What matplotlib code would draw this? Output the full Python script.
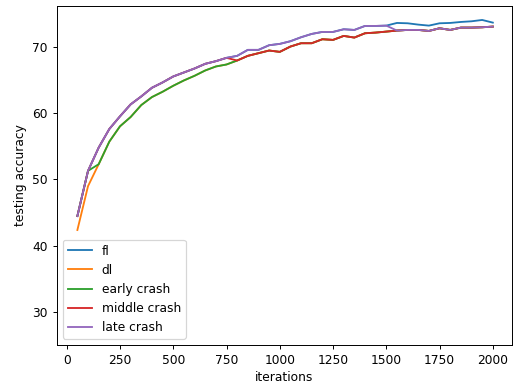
import matplotlib.pyplot as plt

iterations = list(range(50, 2001, 50))

fl = [44.5, 51.3, 54.8, 57.6, 59.5, 61.3, 62.5, 63.8, 64.6, 65.5,
      66.1, 66.7, 67.4, 67.8, 68.3, 68.6, 69.5, 69.5, 70.2, 70.4,
      70.8, 71.4, 71.9, 72.2, 72.2, 72.6, 72.5, 73.1, 73.1, 73.15,
      73.55, 73.5, 73.3, 73.15, 73.5, 73.55, 73.7, 73.8, 74.0, 73.6]

dl = [42.4, 49.0, 52.3, 55.7, 58.0, 59.4, 61.2, 62.4, 63.2, 64.1,
      64.9, 65.6, 66.4, 67.0, 67.3, 67.9, 68.6, 69.0, 69.4, 69.2,
      70.0, 70.5, 70.5, 71.1, 71.0, 71.6, 71.35, 72.0, 72.1, 72.25,
      72.4, 72.5, 72.5, 72.35, 72.75, 72.5, 72.85, 72.85, 72.9, 73.0]

early_crash = [44.5, 51.3, 52.3, 55.7, 58.0, 59.4, 61.2, 62.4, 63.2, 64.1,
               64.9, 65.6, 66.4, 67.0, 67.3, 67.9, 68.6, 69.0, 69.4, 69.2,
               70.0, 70.5, 70.5, 71.1, 71.0, 71.6, 71.35, 72.0, 72.1, 72.25,
               72.4, 72.5, 72.5, 72.35, 72.75, 72.5, 72.85, 72.85, 72.9, 73.0]

middle_crash = [44.5, 51.3, 54.8, 57.6, 59.5, 61.3, 62.5, 63.8, 64.6, 65.5,
                66.1, 66.7, 67.4, 67.8, 68.3, 67.9, 68.6, 69.0, 69.4, 69.2,
                70.0, 70.5, 70.5, 71.1, 71.0, 71.6, 71.35, 72.0, 72.1, 72.25,
                72.4, 72.5, 72.5, 72.35, 72.75, 72.5, 72.85, 72.85, 72.9, 73.0]

late_crash = [44.5, 51.3, 54.8, 57.6, 59.5, 61.3, 62.5, 63.8, 64.6, 65.5,
              66.1, 66.7, 67.4, 67.8, 68.3, 68.6, 69.5, 69.5, 70.2, 70.4,
              70.8, 71.4, 71.9, 72.2, 72.2, 72.6, 72.5, 73.1, 73.1, 73.15,
              72.4, 72.5, 72.5, 72.35, 72.75, 72.5, 72.85, 72.85, 72.9, 73.0]

fig = plt.figure(figsize=(513 / 88, 391 / 88), dpi=88)
ax = fig.add_axes([56.5 / 513, 46 / 391, 455.5 / 513, 339 / 391])

ax.plot(iterations, fl, label="fl")
ax.plot(iterations, dl, label="dl")
ax.plot(iterations, early_crash, label="early crash")
ax.plot(iterations, middle_crash, label="middle crash")
ax.plot(iterations, late_crash, label="late crash")

ax.set_xlim(-48, 2090)
ax.set_ylim(25.1, 76.1)
ax.set_xlabel("iterations")
ax.set_ylabel("testing accuracy")
ax.legend(loc="lower left")

fig.savefig("out.png", dpi=88)
